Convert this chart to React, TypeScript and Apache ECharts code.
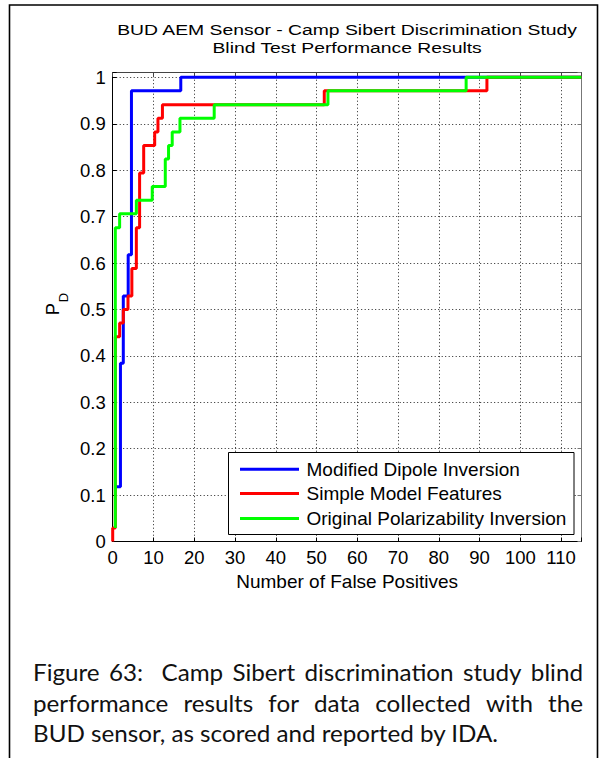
import React, { useEffect, useRef } from 'react';
import * as echarts from 'echarts';

// ---- texts ----
const titleLines = ['BUD AEM Sensor - Camp Sibert Discrimination Study', 'Blind Test Performance Results'];
const xAxisTitle = 'Number of False Positives';
const yAxisMain = 'P';
const yAxisSub = 'D';
const seriesNames = ['Modified Dipole Inversion', 'Simple Model Features', 'Original Polarizability Inversion'];
const seriesColors = ['#0000ff', '#ff0000', '#00ff00'];
const captionLines = [
  'Figure 63:  Camp Sibert discrimination study blind',
  'performance results for data collected with the',
  'BUD sensor, as scored and reported by IDA.',
];

// ---- axes ----
const xMin = 0;
const xMax = 115;
const xInterval = 10;
const yMin = 0;
const yMax = 1.01;
const yInterval = 0.1;

// ---- data: step points (x = false positives where P_D jumps, y = new P_D) ----
const blueX = [0.64, 1.9, 2.6, 3.8, 4.6, 16.7, 115];
const blueY = [0.118, 0.384, 0.529, 0.618, 0.971, 1.0, 1.0];
const redX = [0, 0, 0.64, 1.7, 2.6, 3.75, 4.7, 5.8, 6.6, 7.6, 10.3, 11.1, 12.2, 51.9, 91.8, 115];
const redY = [0, 0.029, 0.441, 0.471, 0.5, 0.529, 0.588, 0.676, 0.794, 0.853, 0.882, 0.912, 0.941, 0.971, 1.0, 1.0];
const greenX = [0.64, 0.64, 1.7, 5.8, 9.7, 12.9, 13.7, 14.6, 16.5, 24.9, 52.8, 86.7, 115];
const greenY = [0.029, 0.676, 0.706, 0.735, 0.765, 0.824, 0.853, 0.882, 0.912, 0.941, 0.971, 1.0, 1.0];

const SANS = '"Liberation Sans", Arial, Helvetica, sans-serif';
const CAPFONT = 'Lato, "Open Sans", sans-serif';

function zip(xs: number[], ys: number[]) {
  return xs.map((x, i) => [x, ys[i]]);
}

export default function App() {
  const ref = useRef<HTMLDivElement>(null);

  useEffect(() => {
    if (!ref.current) return;
    const chart = echarts.init(ref.current, null, { renderer: 'svg' });

    const canvas = document.createElement('canvas');
    const ctx = canvas.getContext('2d')!;
    const measure = (s: string, size: number, family: string) => {
      ctx.font = `${size}px ${family}`;
      return ctx.measureText(s).width;
    };

    // plot geometry
    const gLeft = 112.7;
    const gTop = 72.7;
    const gW = 468.8;
    const gH = 468.8;
    const cx = gLeft + gW / 2;

    // title (stretched horizontally as in the reference)
    const titleSize = 15.5;
    const titleScale = 461 / measure(titleLines[0], titleSize, SANS);

    // caption
    const capLeft = 33;
    const capRight = 583;
    const capSize = 23;
    const capScale = 466 / measure(captionLines[2], capSize, CAPFONT);
    const capYs = [672.5, 703, 733.5];

    const textStyle = (text: string, size: number, family: string, align: string, fill = '#000') => ({
      text,
      fontSize: size,
      fontFamily: family,
      fill,
      align,
      verticalAlign: 'middle',
      textAlign: align,
      textVerticalAlign: 'middle',
    });

    const graphics: any[] = [];
    graphics.push({
      type: 'rect',
      z: 100,
      shape: { x: 9.5, y: 5, width: 588, height: 800 },
      style: { fill: 'none', stroke: '#000', lineWidth: 1.6 },
    });
    titleLines.forEach((t, i) => {
      graphics.push({
        type: 'text',
        z: 100,
        x: cx,
        y: 29.7 + i * 17.8,
        scaleX: titleScale,
        style: textStyle(t, titleSize, SANS, 'center'),
      });
    });
    graphics.push({
      type: 'text',
      z: 100,
      x: cx,
      y: 581,
      style: textStyle(xAxisTitle, 19, SANS, 'center'),
    });
    graphics.push({
      type: 'text',
      z: 100,
      x: 52.5,
      y: 309,
      rotation: Math.PI / 2,
      style: textStyle(yAxisMain, 18.5, SANS, 'center'),
    });
    graphics.push({
      type: 'text',
      z: 100,
      x: 63.5,
      y: 297.5,
      rotation: Math.PI / 2,
      style: textStyle(yAxisSub, 13, SANS, 'center'),
    });

    // legend
    const lgX = 228.5;
    const lgY = 452.5;
    const lgW = 345.5;
    const lgH = 82;
    const rowYs = [469.3, 493.6, 518.5];
    graphics.push({
      type: 'rect',
      z: 100,
      shape: { x: lgX, y: lgY, width: lgW, height: lgH },
      style: { fill: '#fff', stroke: '#000', lineWidth: 1 },
    });
    seriesNames.forEach((n, i) => {
      graphics.push({
        type: 'line',
        z: 101,
        shape: { x1: 240, y1: rowYs[i], x2: 299, y2: rowYs[i] },
        style: { stroke: seriesColors[i], lineWidth: 3 },
      });
      graphics.push({
        type: 'text',
        z: 101,
        x: 306.5,
        y: rowYs[i],
        style: textStyle(n, 19, SANS, 'left'),
      });
    });

    // caption (first two lines justified)
    captionLines.forEach((line, li) => {
      const justify = li < captionLines.length - 1;
      if (!justify) {
        graphics.push({
          type: 'text',
          z: 100,
          x: capLeft,
          y: capYs[li],
          scaleX: capScale,
          style: textStyle(line, capSize, CAPFONT, 'left', '#111'),
        });
        return;
      }
      const words = line.split(' ');
      const widths = words.map((w) => (w ? measure(w, capSize, CAPFONT) * capScale : 0));
      const total = widths.reduce((a, b) => a + b, 0);
      const gap = (capRight - capLeft - total) / (words.length - 1);
      let x = capLeft;
      words.forEach((w, wi) => {
        if (w) {
          graphics.push({
            type: 'text',
            z: 100,
            x,
            y: capYs[li],
            scaleX: capScale,
            style: textStyle(w, capSize, CAPFONT, 'left', '#111'),
          });
        }
        x += widths[wi] + gap;
      });
    });

    const labelStyle = { fontSize: 18.5, fontFamily: SANS, color: '#000' };
    const fmtY = (v: number) => (v > 1.0001 ? '' : String(Math.round(v * 10) / 10));
    const fmtX = (v: number) => (v > 110.5 ? '' : String(Math.round(v)));
    const gridLine = { show: true, lineStyle: { color: '#222', width: 1, type: [1, 2.5] } };

    const option: any = {
      animation: false,
      backgroundColor: '#ffffff',
      grid: { left: gLeft, top: gTop, width: gW, height: gH },
      xAxis: [
        {
          type: 'value',
          min: xMin,
          max: xMax,
          interval: xInterval,
          position: 'bottom',
          axisLine: { onZero: false, lineStyle: { color: '#000', width: 1 } },
          axisTick: { inside: true, length: 4, lineStyle: { color: '#000' } },
          axisLabel: { ...labelStyle, margin: 6, formatter: fmtX },
          splitLine: gridLine,
        },
        {
          type: 'value',
          min: xMin,
          max: xMax,
          interval: xInterval,
          position: 'top',
          axisLine: { onZero: false, lineStyle: { color: '#444', width: 1 } },
          axisTick: { inside: true, length: 4, lineStyle: { color: '#444' } },
          axisLabel: { show: false },
          splitLine: { show: false },
        },
      ],
      yAxis: [
        {
          type: 'value',
          min: yMin,
          max: yMax,
          interval: yInterval,
          position: 'left',
          axisLine: { show: true, onZero: false, lineStyle: { color: '#000', width: 1 } },
          axisTick: { show: true, inside: true, length: 4, lineStyle: { color: '#000' } },
          axisLabel: { ...labelStyle, margin: 7, formatter: fmtY },
          splitLine: gridLine,
        },
        {
          type: 'value',
          min: yMin,
          max: yMax,
          interval: yInterval,
          position: 'right',
          axisLine: { show: true, onZero: false, lineStyle: { color: '#777', width: 1 } },
          axisTick: { show: true, inside: true, length: 4, lineStyle: { color: '#777' } },
          axisLabel: { show: false },
          splitLine: { show: false },
        },
      ],
      series: [
        { name: seriesNames[0], data: zip(blueX, blueY), color: seriesColors[0] },
        { name: seriesNames[1], data: zip(redX, redY), color: seriesColors[1] },
        { name: seriesNames[2], data: zip(greenX, greenY), color: seriesColors[2] },
      ].map((s, i) => ({
        type: 'line',
        name: s.name,
        data: s.data,
        xAxisIndex: 0,
        yAxisIndex: 0,
        step: 'end',
        showSymbol: false,
        symbol: 'none',
        z: 2 + i,
        lineStyle: { color: s.color, width: 3 },
        itemStyle: { color: s.color },
      })),
      graphic: { elements: graphics },
    };

    chart.setOption(option);
    return () => chart.dispose();
  }, []);

  return (
    <div
      ref={ref}
      style={{ position: 'absolute', left: 0, top: 0, width: 603, height: 758, background: '#fff' }}
    />
  );
}
